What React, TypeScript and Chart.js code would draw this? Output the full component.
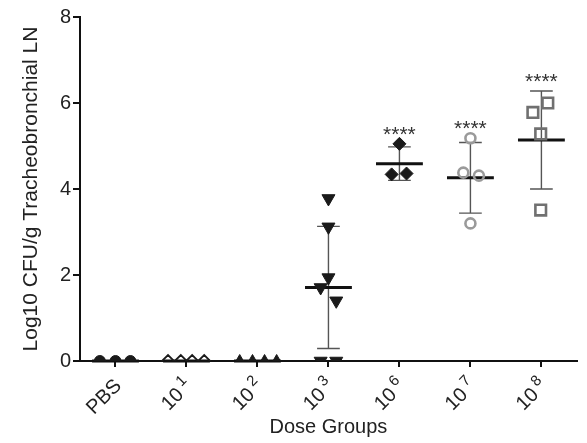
import React, { useEffect, useRef } from "react";
import { Chart, registerables } from "chart.js";
Chart.register(...registerables);

const categories = ["PBS", "10¹", "10²", "10³", "10⁶", "10⁷", "10⁸"];
const labelBase = ["PBS", "10", "10", "10", "10", "10", "10"];
const labelExponent = ["", "1", "2", "3", "6", "7", "8"];
const pbsValues = [0, 0, 0];
const dose1Values = [0, 0, 0, 0];
const dose2Values = [0, 0, 0, 0];
const dose3Values = [3.78, 3.12, 1.94, 1.71, 1.4, 0, 0];
const dose6Values = [5.05, 4.34, 4.36];
const dose7Values = [5.18, 4.38, 4.31, 3.2];
const dose8Values = [5.78, 6.0, 5.28, 3.51];

const pbsJitter = [-0.22, 0, 0.21];
const dose1Jitter = [-0.26, -0.08, 0.08, 0.25];
const dose2Jitter = [-0.25, -0.07, 0.1, 0.27];
const dose3Jitter = [0, 0, 0, -0.11, 0.11, -0.11, 0.11];
const dose6Jitter = [0, -0.11, 0.1];
const dose7Jitter = [0, -0.1, 0.12, 0];
const dose8Jitter = [-0.12, 0.09, -0.01, -0.01];

const groupMeans = [0, 0, 0, 1.71, 4.59, 4.26, 5.14];
const groupSDs = [0, 0, 0, 1.42, 0.39, 0.82, 1.14];
const significance = ["", "", "", "", "****", "****", "****"];

const yTicks = [0, 2, 4, 6, 8];

const groups = [pbsValues, dose1Values, dose2Values, dose3Values, dose6Values, dose7Values, dose8Values];
const jitters = [pbsJitter, dose1Jitter, dose2Jitter, dose3Jitter, dose6Jitter, dose7Jitter, dose8Jitter];

const styles: any[] = [
  { pointStyle: "circle", radius: 5.5, bg: "#1a1a1a", border: "#1a1a1a", bw: 1, rot: 0 },
  { pointStyle: "rectRot", radius: 6, bg: "rgba(0,0,0,0)", border: "#1a1a1a", bw: 1.8, rot: 0 },
  { pointStyle: "triangle", radius: 6.5, bg: "#1a1a1a", border: "#1a1a1a", bw: 1, rot: 0 },
  { pointStyle: "triangle", radius: 7.5, bg: "#1a1a1a", border: "#1a1a1a", bw: 1, rot: 180 },
  { pointStyle: "rectRot", radius: 6.5, bg: "#1a1a1a", border: "#1a1a1a", bw: 1, rot: 0 },
  { pointStyle: "circle", radius: 5, bg: "rgba(0,0,0,0)", border: "#9a9a9a", bw: 2.6, rot: 0 },
  { pointStyle: "rect", radius: 7.5, bg: "rgba(0,0,0,0)", border: "#707070", bw: 2.6, rot: 0 },
];

const FONT = "'Liberation Sans', Arial, Helvetica, sans-serif";

const barsPlugin = {
  id: "meanSdBars",
  beforeDatasetsDraw(chart: any) {
    const { ctx, scales } = chart;
    const x = scales.x;
    const y = scales.y;
    ctx.save();
    groupMeans.forEach((m, i) => {
      const cx = x.getPixelForValue(i);
      const unit = x.getPixelForValue(1) - x.getPixelForValue(0);
      const sd = groupSDs[i];
      const yTop = y.getPixelForValue(m + sd);
      const yBot = y.getPixelForValue(Math.max(0, m - sd));
      ctx.strokeStyle = "#555";
      ctx.lineWidth = 1.4;
      ctx.beginPath();
      ctx.moveTo(cx, yTop);
      ctx.lineTo(cx, yBot);
      ctx.moveTo(cx - unit * 0.16, yTop);
      ctx.lineTo(cx + unit * 0.16, yTop);
      ctx.moveTo(cx - unit * 0.16, yBot);
      ctx.lineTo(cx + unit * 0.16, yBot);
      ctx.stroke();
      const ym = y.getPixelForValue(m);
      ctx.strokeStyle = "#111";
      ctx.lineWidth = 3;
      ctx.beginPath();
      ctx.moveTo(cx - unit * 0.33, ym);
      ctx.lineTo(cx + unit * 0.33, ym);
      ctx.stroke();
    });
    ctx.restore();
  },
  afterDatasetsDraw(chart: any) {
    const { ctx, scales } = chart;
    const x = scales.x;
    const y = scales.y;
    ctx.save();
    ctx.fillStyle = "#333";
    ctx.font = `21px ${FONT}`;
    ctx.textAlign = "center";
    ctx.textBaseline = "middle";
    significance.forEach((s, i) => {
      if (!s) return;
      const top = Math.max(groupMeans[i] + groupSDs[i], ...groups[i]);
      const py = y.getPixelForValue(top) - 13;
      ctx.fillText(s, x.getPixelForValue(i), py + 4);
    });
    ctx.restore();
  },
  afterDraw(chart: any) {
    const { ctx, scales } = chart;
    const x = scales.x;
    const axisY = x.top;
    ctx.save();
    ctx.fillStyle = "#222";
    ctx.textBaseline = "middle";
    ctx.textAlign = "right";
    labelBase.forEach((base, i) => {
      const cx = x.getPixelForValue(i);
      ctx.save();
      ctx.translate(cx + 3, axisY + 22);
      ctx.rotate(-Math.PI / 4);
      let end = 0;
      const exp = labelExponent[i];
      if (exp) {
        ctx.font = `15px ${FONT}`;
        const w = ctx.measureText(exp).width;
        ctx.fillText(exp, 0, -7);
        end = -(w + 4);
      }
      ctx.font = `20px ${FONT}`;
      ctx.fillText(base, end, 0);
      ctx.restore();
    });
    ctx.restore();
  },
};

export default function App() {
  const ref = useRef<HTMLCanvasElement>(null);
  useEffect(() => {
    if (!ref.current) return;
    const datasets = groups.map((vals, gi) => ({
      label: categories[gi],
      data: vals.map((v, k) => ({ x: gi + jitters[gi][k], y: v })),
      pointStyle: styles[gi].pointStyle,
      pointRadius: styles[gi].radius,
      pointBackgroundColor: styles[gi].bg,
      pointBorderColor: styles[gi].border,
      pointBorderWidth: styles[gi].bw,
      pointRotation: styles[gi].rot,
      showLine: false,
    }));
    const chart = new Chart(ref.current, {
      type: "scatter",
      data: { datasets },
      plugins: [barsPlugin],
      options: {
        animation: false,
        responsive: true,
        maintainAspectRatio: false,
        layout: { padding: { top: 17, right: 4, left: 0, bottom: 0 } },
        plugins: { legend: { display: false }, tooltip: { enabled: false } },
        scales: {
          x: {
            type: "linear",
            min: -0.5,
            max: 6.5,
            afterBuildTicks: (s: any) => {
              s.ticks = categories.map((_, i) => ({ value: i }));
            },
            afterFit: (s: any) => {
              s.height = 82;
            },
            ticks: {
              display: false,
            },
            grid: { drawOnChartArea: false, drawTicks: true, tickLength: 6, color: "#111", lineWidth: 2 },
            border: { color: "#111", width: 2 },
            title: {
              display: true,
              text: "Dose Groups",
              font: { size: 20, family: FONT },
              color: "#222",
              padding: { bottom: 4, top: 0 },
            },
          },
          y: {
            min: 0,
            max: 8,
            afterBuildTicks: (s: any) => {
              s.ticks = yTicks.map((v) => ({ value: v }));
            },
            afterFit: (s: any) => {
              s.width = 80;
            },
            ticks: {
              font: { size: 20, family: FONT },
              color: "#222",
              padding: 2,
            },
            grid: { drawOnChartArea: false, drawTicks: true, tickLength: 7, color: "#111", lineWidth: 2 },
            border: { color: "#111", width: 2 },
            title: {
              display: true,
              text: "Log10 CFU/g Tracheobronchial LN",
              font: { size: 21, family: FONT },
              color: "#222",
              padding: { top: 19, bottom: 0 },
            },
          },
        },
      },
    });
    return () => chart.destroy();
  }, []);
  return (
    <div style={{ position: "fixed", left: 0, top: 0, width: 587, height: 443, background: "#fff" }}>
      <canvas ref={ref} />
    </div>
  );
}
